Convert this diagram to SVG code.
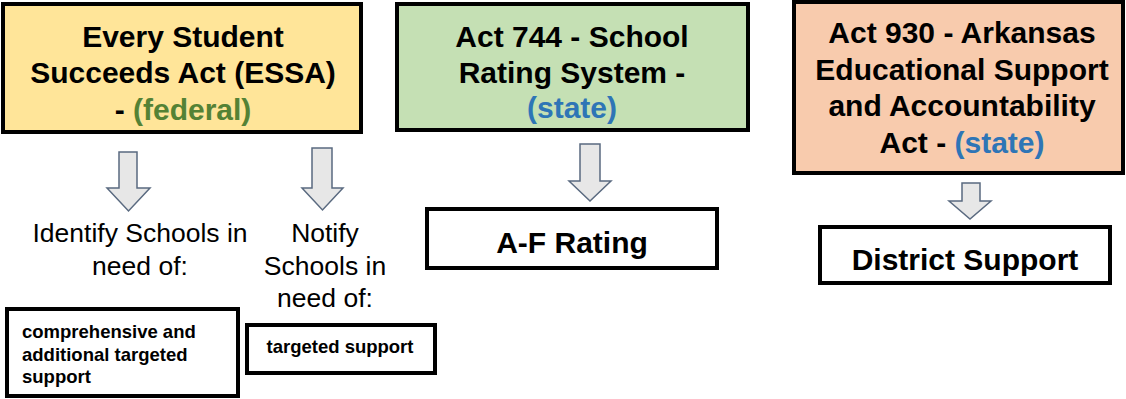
<svg xmlns="http://www.w3.org/2000/svg" width="1126" height="399" viewBox="0 0 1126 399">
<style>
.box{stroke:#000;stroke-width:4}
.h{font-family:"Liberation Sans",Arial,sans-serif;font-weight:bold;font-size:30px;text-anchor:middle;fill:#000}
.r{font-family:"Liberation Sans",Arial,sans-serif;font-size:26.5px;text-anchor:middle;fill:#000}
.s{font-family:"Liberation Sans",Arial,sans-serif;font-weight:bold;font-size:18.5px;fill:#000}
.fed{fill:#548235}
.st{fill:#2E75B6}
.arr{fill:#e7e7e7;stroke:#5a6a80;stroke-width:1.5;stroke-linejoin:miter}
</style>
<rect width="1126" height="399" fill="#fff"/>
<g id="essa">
<rect class="box" x="3" y="4" width="358" height="128" fill="#FFE599"/>
<text class="h" x="183" y="47">Every Student</text>
<text class="h" x="183" y="83">Succeeds Act (ESSA)</text>
<text class="h" x="183" y="120">- <tspan class="fed">(federal)</tspan></text>
</g>
<g id="act744">
<rect class="box" x="397" y="4" width="351" height="126" fill="#C5E0B4"/>
<text class="h" x="572" y="47">Act 744 - School</text>
<text class="h" x="572" y="83">Rating System -</text>
<text class="h" x="572" y="118"><tspan class="st">(state)</tspan></text>
</g>
<g id="act930">
<rect class="box" x="794" y="2" width="329" height="171" fill="#F8CBAD"/>
<text class="h" x="962" y="43">Act 930 - Arkansas</text>
<text class="h" x="962" y="80">Educational Support</text>
<text class="h" x="962" y="116">and Accountability</text>
<text class="h" x="962" y="153">Act - <tspan class="st">(state)</tspan></text>
</g>
<g id="identify">
<text class="r" x="140" y="242">Identify Schools in</text>
<text class="r" x="140" y="275">need of:</text>
</g>
<g id="notify">
<text class="r" x="325" y="242">Notify</text>
<text class="r" x="325" y="275">Schools in</text>
<text class="r" x="325" y="307">need of:</text>
</g>
<g id="comprehensive">
<rect class="box" x="7" y="309" width="231" height="87" fill="#fff"/>
<text class="s" x="22" y="338">comprehensive and</text>
<text class="s" x="22" y="361">additional targeted</text>
<text class="s" x="22" y="383">support</text>
</g>
<g id="targeted">
<rect class="box" x="247" y="325" width="188" height="48" fill="#fff"/>
<text class="s" x="340" y="353" text-anchor="middle">targeted support</text>
</g>
<g id="afrating">
<rect class="box" x="427" y="209" width="290" height="59" fill="#fff"/>
<text class="h" x="572" y="253" font-size="31.5">A-F Rating</text>
</g>
<g id="district">
<rect class="box" x="820" y="227" width="290" height="56" fill="#fff"/>
<text class="h" x="965" y="270" font-size="31">District Support</text>
</g>
<g id="connectors">
<path class="arr" d="M119,152 H137 V188 H150 L128.5,211 L107,188 H119 Z"/>
<path class="arr" d="M312,148 H332 V188 H343 L322.5,210 L302,188 H312 Z"/>
<path class="arr" d="M580,144 H600 V181 H611 L590,201 L569,181 H580 Z"/>
<path class="arr" d="M962,183 H980 V201 H991 L970,219 L949,201 H962 Z"/>
</g>
</svg>
